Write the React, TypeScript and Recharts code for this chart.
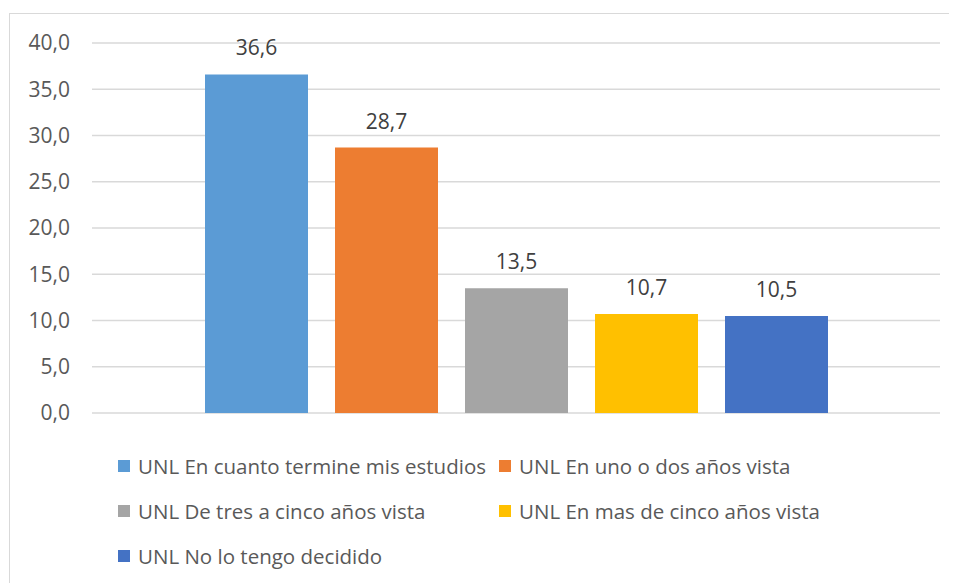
import React from 'react';
import { BarChart, Bar, XAxis, YAxis, CartesianGrid, LabelList } from 'recharts';

const categories = ['UNL'];
const seriesNames = [
  'UNL En cuanto termine mis estudios',
  'UNL En uno o dos años vista',
  'UNL De tres a cinco años vista',
  'UNL En mas de cinco años vista',
  'UNL No lo tengo decidido',
];
const seriesValues = [36.6, 28.7, 13.5, 10.7, 10.5];
const seriesColors = ['#5B9BD5', '#ED7D31', '#A5A5A5', '#FFC000', '#4472C4'];
const yTicks = [0, 5, 10, 15, 20, 25, 30, 35, 40];

const data = categories.map((c) => {
  const row: Record<string, string | number> = { name: c };
  seriesNames.forEach((s, i) => {
    row['s' + i] = seriesValues[i];
  });
  return row;
});

const fmt = (v: number) => Number(v).toFixed(1).replace('.', ',');

const FONT = '"Open Sans", sans-serif';
const W = 949;
const H = 575;

const legendPos = [
  { left: 110, top: 458 },
  { left: 491, top: 458 },
  { left: 110, top: 503 },
  { left: 491, top: 503 },
  { left: 110, top: 548 },
];

export default function App() {
  return (
    <div style={{ position: 'relative', width: W, height: H, overflow: 'hidden', background: '#fff', fontFamily: FONT }}>
      <div
        style={{
          position: 'absolute',
          left: 1,
          top: 5,
          width: W + 20,
          height: H + 20,
          border: '1px solid #D9D9D9',
          boxSizing: 'border-box',
        }}
      />
      <BarChart
        width={W}
        height={H}
        data={data}
        margin={{ top: 35, right: 17, bottom: 170, left: 14 }}
        barCategoryGap={111}
        barGap={27}
        style={{ position: 'absolute', left: 0, top: 0 }}
      >
        <CartesianGrid vertical={false} stroke="#D9D9D9" strokeWidth={1.3} />
        <XAxis dataKey="name" hide />
        <YAxis
          width={70}
          domain={[0, 40]}
          ticks={yTicks}
          interval={0}
          tickFormatter={fmt}
          axisLine={false}
          tickLine={false}
          tickSize={6}
          tickMargin={16}
          tick={{ fill: '#595959', fontSize: 21, fontFamily: FONT }}
        />
        {seriesNames.map((s, i) => (
          <Bar key={s} dataKey={'s' + i} name={s} fill={seriesColors[i]} barSize={103} isAnimationActive={false}>
            <LabelList
              dataKey={'s' + i}
              position="top"
              offset={19}
              formatter={(v: any) => fmt(v)}
              fill="#404040"
              fontSize={21}
              fontFamily={FONT}
            />
          </Bar>
        ))}
      </BarChart>
      {seriesNames.map((s, i) => (
        <div
          key={s}
          style={{
            position: 'absolute',
            left: legendPos[i].left,
            top: legendPos[i].top - 14,
            height: 28,
            display: 'flex',
            alignItems: 'center',
            whiteSpace: 'nowrap',
            fontSize: 20.5,
            color: '#595959',
            fontFamily: FONT,
          }}
        >
          <span style={{ display: 'inline-block', width: 12, height: 12, background: seriesColors[i], marginRight: 8 }} />
          <span>{s}</span>
        </div>
      ))}
    </div>
  );
}
